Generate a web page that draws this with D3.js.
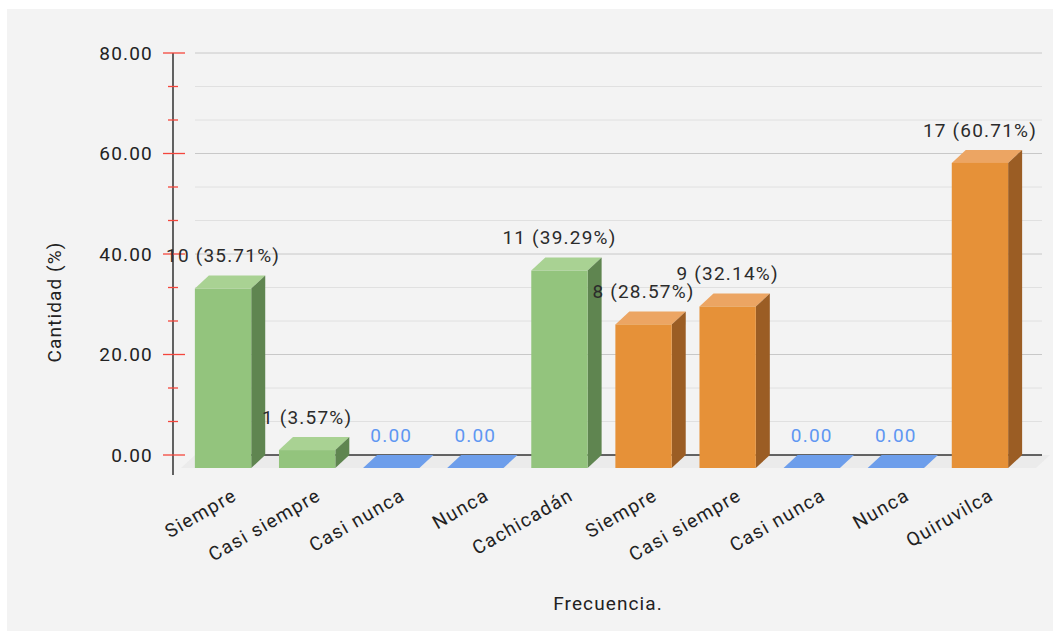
<!DOCTYPE html>
<html>
<head>
<meta charset="utf-8">
<script src="https://cdn.jsdelivr.net/npm/d3@7"></script>
<style>
  html, body { margin: 0; padding: 0; background: #ffffff; }
  svg { display: block; font-family: Roboto, "Noto Sans", sans-serif; }
</style>
</head>
<body>
<svg id="chart" width="1060" height="638"></svg>
<script>
// Categories along the x axis (two districts, four answers each plus the district name)
const categories = ["Siempre", "Casi siempre", "Casi nunca", "Nunca", "Cachicadán",
                    "Siempre", "Casi siempre", "Casi nunca", "Nunca", "Quiruvilca"];
// Respondent counts and their percentages
const counts   = [10, 1, 0, 0, 11, 8, 9, 0, 0, 17];
const percents = [35.71, 3.57, 0, 0, 39.29, 28.57, 32.14, 0, 0, 60.71];
// Which colour group each column belongs to
const groups   = ["g", "g", "z", "z", "g", "o", "o", "z", "z", "o"];
const yTicks   = [0, 20, 40, 60, 80];

const palette = {
  g: { front: "#93c47d", side: "#5f8550", top: "#a9d293" },
  o: { front: "#e69138", side: "#9b5d24", top: "#eca563" },
  z: { front: "#6d9eeb", side: "#4f7fcc", top: "#6d9eeb" }
};

const FS = 19;

const svg = d3.select("#chart");

// panel background
svg.append("rect").attr("x", 7).attr("y", 9).attr("width", 1046).attr("height", 622)
  .attr("fill", "#f3f3f3");

// depth of the 3D effect
const DX = 14, DY = 13;

const y = d3.scaleLinear().domain([0, 80]).range([455, 53]);
const x = d3.scaleBand().domain(d3.range(categories.length))
  .range([181, 1022]).paddingInner(0.33).paddingOuter(0.165);

const gridX0 = 195, gridX1 = 1042;

// minor gridlines (three subdivisions per major step)
const minor = d3.range(0, 80, 20 / 3).filter(v => Math.abs(v % 20) > 0.01 && Math.abs(v % 20 - 20) > 0.01);
svg.append("g").selectAll("line").data(minor).join("line")
  .attr("x1", gridX0).attr("x2", gridX1)
  .attr("y1", d => y(d)).attr("y2", d => y(d))
  .attr("stroke", "#e0e0e0").attr("stroke-width", 1);

// major gridlines
svg.append("g").selectAll("line").data(yTicks.filter(v => v > 0)).join("line")
  .attr("x1", gridX0).attr("x2", gridX1)
  .attr("y1", d => y(d)).attr("y2", d => y(d))
  .attr("stroke", "#c8c8c8").attr("stroke-width", 1);

// floor
svg.append("path")
  .attr("d", `M${gridX0},${y(0)} L${gridX1 + 8},${y(0)} L${gridX1 + 8 - DX},${y(0) + DY} L${gridX0 - DX},${y(0) + DY} Z`)
  .attr("fill", "#ebebeb");

// baseline
svg.append("line").attr("x1", gridX0).attr("x2", gridX1)
  .attr("y1", y(0)).attr("y2", y(0)).attr("stroke", "#333").attr("stroke-width", 1.3);

// y axis line and ticks
svg.append("line").attr("x1", 173).attr("x2", 173).attr("y1", y(80)).attr("y2", y(0) + 20)
  .attr("stroke", "#111").attr("stroke-width", 1.3);
svg.append("g").selectAll("line").data(minor).join("line")
  .attr("x1", 168).attr("x2", 178).attr("y1", d => y(d)).attr("y2", d => y(d))
  .attr("stroke", "#f4463c").attr("stroke-width", 1.3);
svg.append("g").selectAll("line").data(yTicks).join("line")
  .attr("x1", 163).attr("x2", 185).attr("y1", d => y(d)).attr("y2", d => y(d))
  .attr("stroke", "#f4463c").attr("stroke-width", 1.3);

// y tick labels
svg.append("g").selectAll("text").data(yTicks).join("text")
  .attr("x", 153).attr("y", d => y(d))
  .attr("dy", "0.35em").attr("text-anchor", "end")
  .attr("font-size", FS).attr("letter-spacing", 1.2).attr("fill", "#222")
  .text(d => d3.format(".2f")(d));

// bars
const bars = svg.append("g").selectAll("g").data(percents).join("g");
bars.each(function (v, i) {
  const g = d3.select(this);
  const c = palette[groups[i]];
  const x0 = x(i), w = x.bandwidth();
  const yb = y(0) + DY, yt = y(v) + DY;
  if (v > 0) {
    // top face
    g.append("path")
      .attr("d", `M${x0},${yt} L${x0 + DX},${yt - DY} L${x0 + w + DX},${yt - DY} L${x0 + w},${yt} Z`)
      .attr("fill", c.top);
    // side face
    g.append("path")
      .attr("d", `M${x0 + w},${yt} L${x0 + w + DX},${yt - DY} L${x0 + w + DX},${yb - DY} L${x0 + w},${yb} Z`)
      .attr("fill", c.side);
    // front face
    g.append("rect").attr("x", x0).attr("y", yt).attr("width", w).attr("height", yb - yt)
      .attr("fill", c.front);
  } else {
    // flat slab for empty categories
    g.append("path")
      .attr("d", `M${x0},${yb} L${x0 + DX},${yb - DY} L${x0 + w + DX},${yb - DY} L${x0 + w},${yb} Z`)
      .attr("fill", c.front);
  }
});

// value labels
svg.append("g").selectAll("text").data(percents).join("text")
  .attr("x", (d, i) => x(i) + x.bandwidth() / 2)
  .attr("y", d => y(d) - 20)
  .attr("dy", "0.35em").attr("text-anchor", "middle")
  .attr("font-size", FS).attr("letter-spacing", 1.2)
  .attr("fill", d => d > 0 ? "#2b2b2b" : "#5f97f2")
  .text((d, i) => d > 0 ? `${counts[i]} (${d3.format(".2f")(d)}%)` : d3.format(".2f")(d));

// x category labels
svg.append("g").selectAll("text").data(categories).join("text")
  .attr("transform", (d, i) => `translate(${x(i) + x.bandwidth() / 2 + 15},${y(0) + 44}) rotate(-30)`)
  .attr("text-anchor", "end")
  .attr("font-size", FS).attr("letter-spacing", 1.3).attr("fill", "#222")
  .text(d => d);

// axis titles
svg.append("text").attr("x", 608).attr("y", 603).attr("dy", "0.35em")
  .attr("text-anchor", "middle").attr("font-size", FS).attr("letter-spacing", 1.1).attr("fill", "#222")
  .text("Frecuencia.");
svg.append("text").attr("transform", "translate(54,302) rotate(-90)")
  .attr("dy", "0.35em").attr("text-anchor", "middle")
  .attr("font-size", FS).attr("letter-spacing", 1.1).attr("fill", "#222")
  .text("Cantidad (%)");
</script>
</body>
</html>
